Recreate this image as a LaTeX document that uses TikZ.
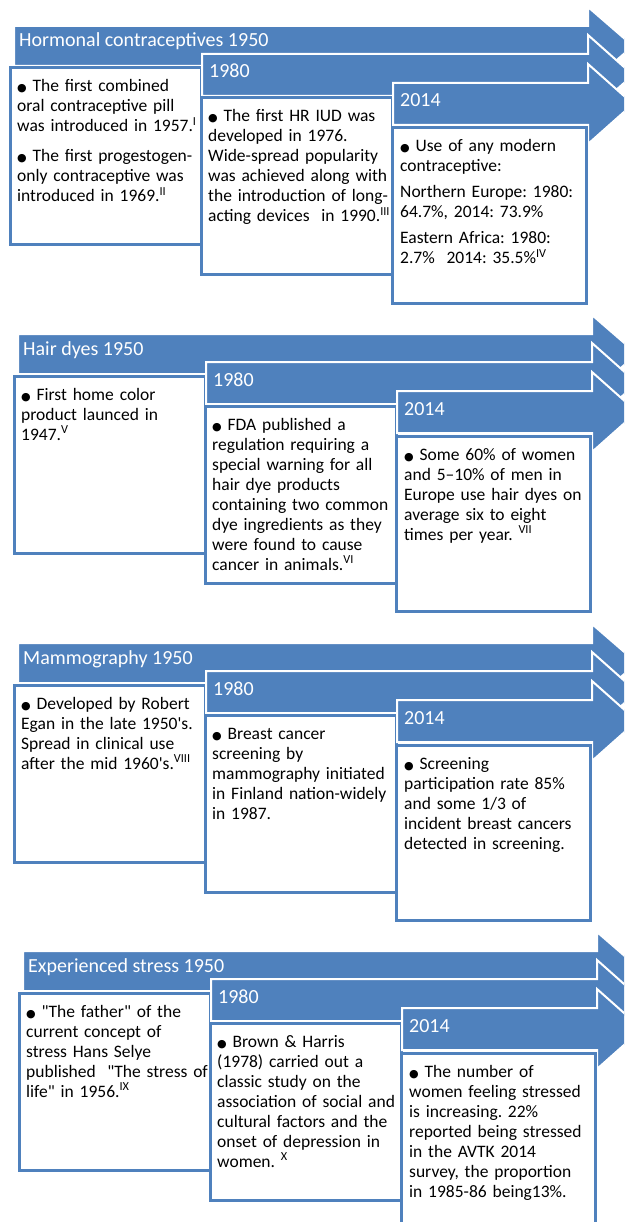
\documentclass[tikz,border=0pt]{standalone}
\usepackage{fontspec}
\setmainfont{Carlito}
\newfontfamily\bulletfont{DejaVu Sans}
\usepackage{tikz}
\definecolor{barblue}{HTML}{4F81BD}
\newcommand{\blt}{{\bulletfont\fontsize{11}{11}\selectfont ●}\ }
\frenchspacing

\begin{document}
\begin{tikzpicture}[x=1pt, y=-1pt,
    bar/.style={fill=barblue, draw=white, line width=2pt},
    bartext/.style={anchor=base west, inner sep=0pt, text=white, font=\fontsize{20}{22}\selectfont},
    infobox/.style={anchor=north west, fill=white, draw=barblue, line width=3pt, inner sep=0pt, outer sep=0pt},
    infotext/.style={anchor=base west, inner sep=0pt, text width=200pt, align=left, font=\fontsize{17.5}{20}\selectfont}]
    \useasboundingbox (0,0) rectangle (624,1222);
    \clip (0,0) rectangle (624,1222);

    % Hormonal contraceptives
    \begin{scope}
        \draw[bar] (14,26) -- (588,26) -- (588,7) -- (633,46) -- (588,85) -- (588,66) -- (14,66) -- cycle;
        \node[bartext] (hc1950) at (19,47) {Hormonal contraceptives 1950};
        \node[infobox, minimum width=191pt, minimum height=177pt] (hcbox1950) at (10,68) {};
        \node[infotext] (hctext1950) at ([shift={(7,24)}]hcbox1950.north west) {\blt The first combined\\ oral contraceptive pill\\ was introduced in 1957.\textsuperscript{I}\\[10pt] \blt The first progestogen-\\ only contraceptive was\\ introduced in 1969.\textsuperscript{II}};
        \draw[bar] (202,54) -- (588,54) -- (588,35) -- (633,75) -- (588,115) -- (588,96) -- (202,96) -- cycle;
        \node[bartext] (hc1980) at (209,78) {1980};
        \node[infobox, minimum width=191pt, minimum height=177pt] (hcbox1980) at (201,98) {};
        \node[infotext] (hctext1980) at ([shift={(7,24)}]hcbox1980.north west) {\blt The first HR IUD was\\ developed in 1976.\\ Wide-spread popularity\\ was achieved along with\\ the introduction of long-\\ acting devices\ \ in 1990.\textsuperscript{III}};
        \draw[bar] (393,83) -- (588,83) -- (588,64) -- (633,104) -- (588,144) -- (588,125) -- (393,125) -- cycle;
        \node[bartext] (hc2014) at (400,107) {2014};
        \node[infobox, minimum width=194pt, minimum height=175pt] (hcbox2014) at (392,128) {};
        \node[infotext] (hctext2014) at ([shift={(8,24)}]hcbox2014.north west) {\blt Use of any modern\\ contraceptive:\\[6pt] Northern Europe: 1980:\\ 64.7\%, 2014: 73.9\%\\[6pt] Eastern Africa: 1980:\\ 2.7\%\ \ 2014: 35.5\%\textsuperscript{IV}};
    \end{scope}

    % Hair dyes
    \begin{scope}[shift={(4,308)}]
        \draw[bar] (14,26) -- (588,26) -- (588,7) -- (633,46) -- (588,85) -- (588,66) -- (14,66) -- cycle;
        \node[bartext] (hd1950) at (19,47) {Hair dyes 1950};
        \node[infobox, minimum width=191pt, minimum height=177pt] (hdbox1950) at (10,68) {};
        \node[infotext] (hdtext1950) at ([shift={(7,24)}]hdbox1950.north west) {\blt First home color\\ product launced in\\ 1947.\textsuperscript{V}};
        \draw[bar] (202,54) -- (588,54) -- (588,35) -- (633,75) -- (588,115) -- (588,96) -- (202,96) -- cycle;
        \node[bartext] (hd1980) at (209,78) {1980};
        \node[infobox, minimum width=191pt, minimum height=177pt] (hdbox1980) at (201,98) {};
        \node[infotext] (hdtext1980) at ([shift={(7,24)}]hdbox1980.north west) {\blt FDA published a\\ regulation requiring a\\ special warning for all\\ hair dye products\\ containing two common\\ dye ingredients as they\\ were found to cause\\ cancer in animals.\textsuperscript{VI}};
        \draw[bar] (393,83) -- (588,83) -- (588,64) -- (633,104) -- (588,144) -- (588,125) -- (393,125) -- cycle;
        \node[bartext] (hd2014) at (400,107) {2014};
        \node[infobox, minimum width=194pt, minimum height=175pt] (hdbox2014) at (392,128) {};
        \node[infotext] (hdtext2014) at ([shift={(8,24)}]hdbox2014.north west) {\blt Some 60\% of women\\ and 5–10\% of men in\\ Europe use hair dyes on\\ average six to eight\\ times per year. \textsuperscript{VII}};
    \end{scope}

    % Mammography
    \begin{scope}[shift={(4,617)}]
        \draw[bar] (14,26) -- (588,26) -- (588,7) -- (633,46) -- (588,85) -- (588,66) -- (14,66) -- cycle;
        \node[bartext] (mg1950) at (19,47) {Mammography 1950};
        \node[infobox, minimum width=191pt, minimum height=177pt] (mgbox1950) at (10,68) {};
        \node[infotext] (mgtext1950) at ([shift={(7,24)}]mgbox1950.north west) {\blt Developed by Robert\\ Egan in the late 1950\textquotesingle s.\\ Spread in clinical use\\ after the mid 1960\textquotesingle s.\textsuperscript{VIII}};
        \draw[bar] (202,54) -- (588,54) -- (588,35) -- (633,75) -- (588,115) -- (588,96) -- (202,96) -- cycle;
        \node[bartext] (mg1980) at (209,78) {1980};
        \node[infobox, minimum width=191pt, minimum height=177pt] (mgbox1980) at (201,98) {};
        \node[infotext] (mgtext1980) at ([shift={(7,24)}]mgbox1980.north west) {\blt Breast cancer\\ screening by\\ mammography initiated\\ in Finland nation-widely\\ in 1987.};
        \draw[bar] (393,83) -- (588,83) -- (588,64) -- (633,104) -- (588,144) -- (588,125) -- (393,125) -- cycle;
        \node[bartext] (mg2014) at (400,107) {2014};
        \node[infobox, minimum width=194pt, minimum height=175pt] (mgbox2014) at (392,128) {};
        \node[infotext] (mgtext2014) at ([shift={(8,24)}]mgbox2014.north west) {\blt Screening\\ participation rate 85\%\\ and some 1/3 of\\ incident breast cancers\\ detected in screening.};
    \end{scope}

    % Experienced stress
    \begin{scope}[shift={(9,925)}]
        \draw[bar] (14,26) -- (588,26) -- (588,7) -- (633,46) -- (588,85) -- (588,66) -- (14,66) -- cycle;
        \node[bartext] (es1950) at (19,47) {Experienced stress 1950};
        \node[infobox, minimum width=191pt, minimum height=177pt] (esbox1950) at (10,68) {};
        \node[infotext] (estext1950) at ([shift={(7,24)}]esbox1950.north west) {\blt \textquotedbl The father\textquotedbl\ of the\\ current concept of\\ stress Hans Selye\\ published\ \ \textquotedbl The stress of\\ life\textquotedbl\ in 1956.\textsuperscript{IX}};
        \draw[bar] (202,54) -- (588,54) -- (588,35) -- (633,75) -- (588,115) -- (588,96) -- (202,96) -- cycle;
        \node[bartext] (es1980) at (209,78) {1980};
        \node[infobox, minimum width=191pt, minimum height=177pt] (esbox1980) at (201,98) {};
        \node[infotext] (estext1980) at ([shift={(7,24)}]esbox1980.north west) {\blt Brown \& Harris\\ (1978) carried out a\\ classic study on the\\ association of social and\\ cultural factors and the\\ onset of depression in\\ women. \textsuperscript{X}};
        \draw[bar] (393,83) -- (588,83) -- (588,64) -- (633,104) -- (588,144) -- (588,125) -- (393,125) -- cycle;
        \node[bartext] (es2014) at (400,107) {2014};
        \node[infobox, minimum width=194pt, minimum height=175pt] (esbox2014) at (392,128) {};
        \node[infotext] (estext2014) at ([shift={(8,24)}]esbox2014.north west) {\blt The number of\\ women feeling stressed\\ is increasing. 22\%\\ reported being stressed\\ in the AVTK 2014\\ survey, the proportion\\ in 1985-86 being13\%.};
    \end{scope}
\end{tikzpicture}
\end{document}
